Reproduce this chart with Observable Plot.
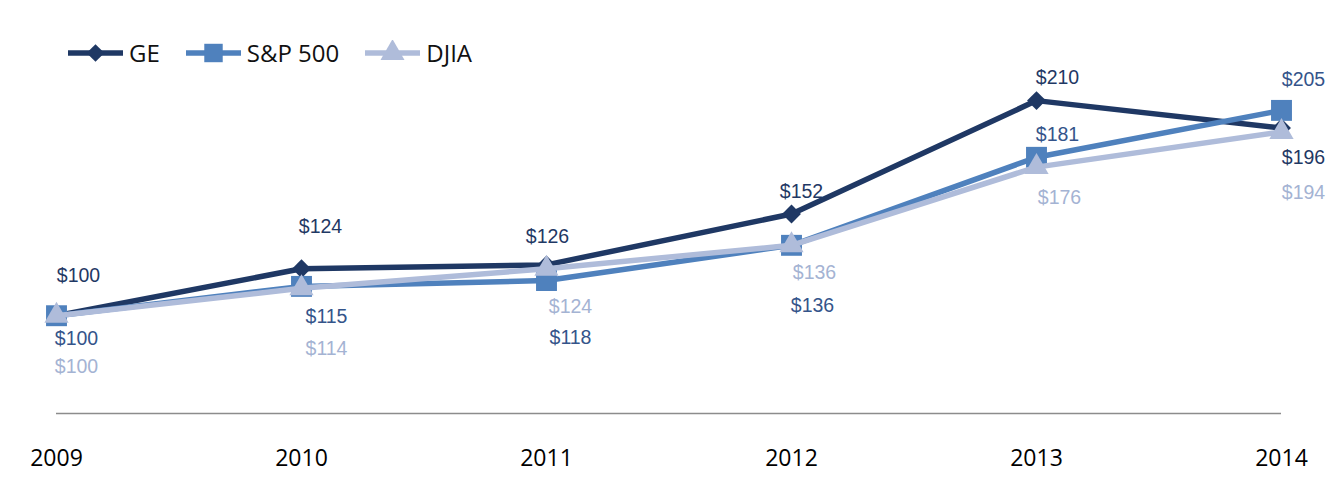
<!DOCTYPE html>
<html>
<head>
<meta charset="utf-8">
<script src="https://cdn.jsdelivr.net/npm/d3@7"></script>
<script src="https://cdn.jsdelivr.net/npm/@observablehq/plot@0.6"></script>
<style>
  html, body { margin: 0; padding: 0; background: #fff; }
  #wrap { position: relative; width: 1333px; height: 494px; }
  #legend { position: absolute; left: 68px; top: 36px; display: flex; align-items: center; gap: 26px;
            font-family: "Open Sans", sans-serif; font-size: 24px; color: #111; }
  .item { display: flex; align-items: center; gap: 6px; }
  .item svg { display: block; }
</style>
</head>
<body>
<div id="wrap">
  <div id="chart"></div>
  <div id="legend"></div>
</div>
<script>
const years = [2009, 2010, 2011, 2012, 2013, 2014];
const seriesNames = ["GE", "S&P 500", "DJIA"];
const geValues = [100, 124, 126, 152, 210, 196];
const spValues = [100, 115, 118, 136, 181, 205];
const djiaValues = [100, 114, 124, 136, 176, 194];

// label offsets (pixels, relative to each point) — layout only
const labelDx = {
  "GE": [22, 19, 1, 10, 21, 22],
  "S&P 500": [20, 25, 24, 21, 21, 22],
  "DJIA": [20, 25, 24, 23, 23, 22]
};
const labelDy = {
  "GE": [-40, -42, -28, -22, -23, 30],
  "S&P 500": [23, 30, 57, 60, -23, -31],
  "DJIA": [51, 60, 38, 27, 31, 61]
};

const lineColors = {"GE": "#1f3864", "S&P 500": "#4f81bd", "DJIA": "#afbcda"};
const labelColors = {"GE": "#1f3864", "S&P 500": "#34548a", "DJIA": "#a4b3d3"};
const symbols = {"GE": "diamond2", "S&P 500": "square", "DJIA": "triangle"};
const radii = {"GE": 8.5, "S&P 500": 11.8, "DJIA": 9};

const valuesBySeries = {"GE": geValues, "S&P 500": spValues, "DJIA": djiaValues};
const rows = [];
for (const s of seriesNames) {
  years.forEach((yr, i) => rows.push({series: s, year: yr, value: valuesBySeries[s][i], dx: labelDx[s][i], dy: labelDy[s][i]}));
}

const marks = [
  Plot.ruleY([50], {stroke: "#8c8c8c", strokeWidth: 1.5, x1: 2009, x2: 2014})
];
for (const s of seriesNames) {
  const d = rows.filter(r => r.series === s);
  marks.push(Plot.line(d, {x: "year", y: "value", stroke: lineColors[s], strokeWidth: 5.5}));
  marks.push(Plot.dot(d, {x: "year", y: "value", symbol: symbols[s], fill: lineColors[s], r: radii[s], stroke: "none"}));
}
for (const r of rows) {
  marks.push(Plot.text([r], {x: "year", y: "value", text: d => "$" + d.value, dx: r.dx, dy: r.dy,
    fill: labelColors[r.series], fontSize: 19.5, fontFamily: "Liberation Sans, Arial, sans-serif"}));
}

const chart = Plot.plot({
  width: 1333,
  height: 494,
  marginLeft: 56,
  marginRight: 52,
  marginTop: 61,
  marginBottom: 81,
  style: {fontFamily: "Open Sans, sans-serif", background: "#fff"},
  x: {domain: [2009, 2014], ticks: years, tickFormat: d => String(d), tickSize: 0, tickPadding: 36, fontSize: 23, label: null},
  y: {domain: [50, 230], axis: null},
  marks: [
    ...marks,
    Plot.axisX({ticks: years, tickFormat: d => String(d), tickSize: 0, tickPadding: 36, fontSize: 23, fill: "#000", label: null})
  ]
});
document.getElementById("chart").appendChild(chart);

// legend
const legend = document.getElementById("legend");
for (const s of seriesNames) {
  const item = document.createElement("div");
  item.className = "item";
  const sw = d3.create("svg").attr("width", 55).attr("height", 26);
  sw.append("line").attr("x1", 0).attr("x2", 55).attr("y1", 13).attr("y2", 13)
    .attr("stroke", lineColors[s]).attr("stroke-width", 5.5);
  const symType = s === "GE" ? d3.symbolDiamond2 : s === "S&P 500" ? d3.symbolSquare : d3.symbolTriangle;
  const size = s === "GE" ? 200 : s === "S&P 500" ? 340 : 250;
  sw.append("path").attr("d", d3.symbol(symType, size)()).attr("transform", "translate(27.5,13)")
    .attr("fill", lineColors[s]);
  item.appendChild(sw.node());
  const t = document.createElement("span");
  t.textContent = s;
  item.appendChild(t);
  legend.appendChild(item);
}
</script>
</body>
</html>
